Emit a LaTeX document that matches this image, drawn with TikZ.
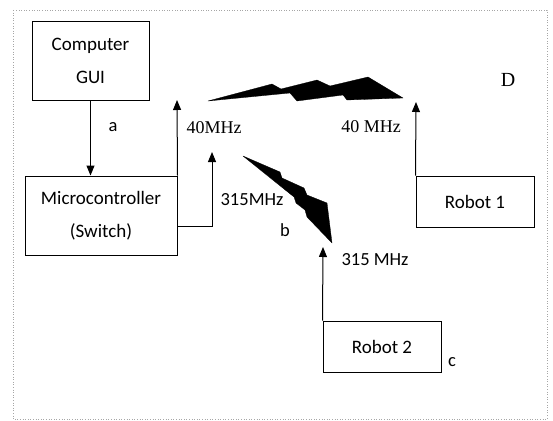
\documentclass[tikz,border=0pt]{standalone}
\usepackage{fontspec}
\setmainfont{Carlito}
\newfontfamily\tnr{Liberation Serif}
\usetikzlibrary{arrows.meta}
\begin{document}
\begin{tikzpicture}[x=1pt,y=-1pt,
  box/.style={draw,line width=1pt,rectangle,inner sep=0pt,align=center,font=\fontsize{19}{33.5}\selectfont},
  lbl/.style={inner sep=0pt,font=\fontsize{18.5}{20}\selectfont},
  slbl/.style={inner sep=0pt,font=\tnr\fontsize{18}{20}\selectfont},
  arr/.style={line width=1pt,-{Triangle[length=10pt,width=8pt]}},
  bolt/.style={fill=black,draw=black,line width=0.3pt,line join=round}]
\useasboundingbox (0,0) rectangle (553,420);
\draw[gray!70,dotted,line width=0.6pt] (13,10) rectangle (547,419);
\node[box,minimum width=117pt,minimum height=78pt] (gui) at (90.5,61) {Computer\\GUI};
\node[box,minimum width=152pt,minimum height=79pt] (mcu) at (101,215.5) {Microcontroller\\(Switch)};
\node[box,minimum width=118pt,minimum height=51pt] (r1) at (475,201.5) {Robot 1};
\node[box,minimum width=118pt,minimum height=51pt] (r2) at (382,346.5) {Robot 2};
\coordinate (t40) at (177,100);
\coordinate (c315) at (212,226);
\coordinate (t315) at (212,152);
\coordinate (tr1) at (416,102);
\coordinate (tr2) at (323,247);
\draw[arr] (gui.south) -- (gui.south |- mcu.north);
\draw[arr] (mcu.north east) -- (t40);
\draw[arr] (mcu.east |- c315) -- (c315) -- (t315);
\draw[arr] (r1.north west) -- (tr1);
\draw[arr] (r2.north west) -- (tr2);
\fill[bolt] (208,101) -- (272,84) -- (281,89) -- (317,80) -- (330,86) -- (368,77) -- (403,98) -- (347,100) -- (343,95) -- (297,101) -- (290,93) -- cycle;
\fill[bolt] (243,156) -- (280,172) -- (282,178) -- (304,188) -- (307,195) -- (327,203) -- (332,243) -- (307,217) -- (305,210) -- (296,203) -- (294,197) -- cycle;
\node[lbl] (la) at (113,127) {a};
\node[slbl] (l40a) at (214,128) {40MHz};
\node[slbl] (l40b) at (371,127) {40 MHz};
\node[lbl] (l315a) at (252,200) {315MHz};
\node[lbl] (lb) at (285,230) {b};
\node[lbl] (l315b) at (375,260) {315 MHz};
\node[lbl] (lc) at (452,362) {c};
\node[slbl,font=\tnr\fontsize{20}{22}\selectfont] (ld) at (508,80) {D};
\end{tikzpicture}
\end{document}
